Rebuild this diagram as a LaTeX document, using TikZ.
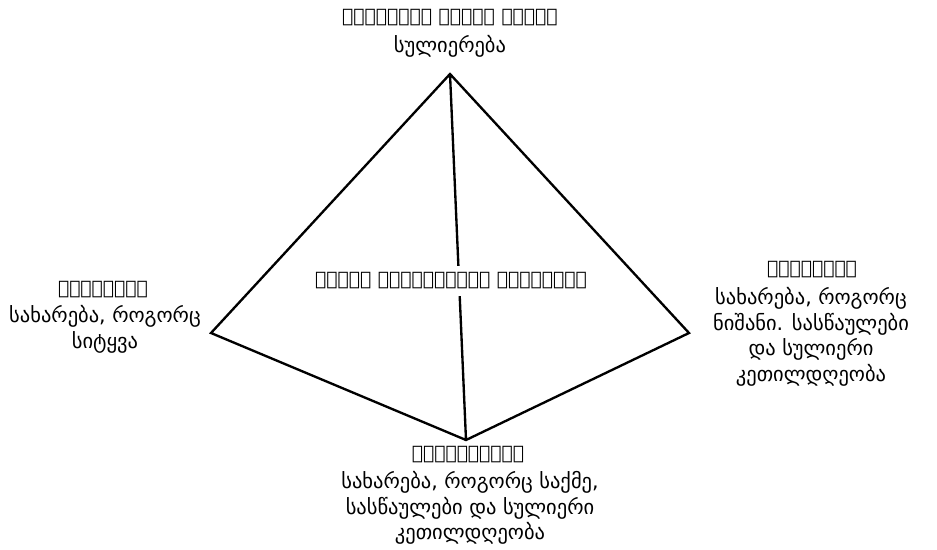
\documentclass[tikz,border=0pt]{standalone}
\usepackage{fontspec}
\setmainfont{DejaVu Sans}
\usepackage{tikz}
\tikzset{
  head/.style={font=\bfseries\fontsize{16}{19}\selectfont, inner sep=0pt},
  body/.style={font=\fontsize{17.5}{22}\selectfont, align=center, inner sep=0pt},
}
\begin{document}
\begin{tikzpicture}[x=0.03cm,y=-0.03cm]
    \useasboundingbox (0,0) rectangle (937,549);
    \coordinate (top) at (450,74);
    \coordinate (lft) at (211,333);
    \coordinate (rgt) at (689,333);
    \coordinate (bot) at (466,440);
    \draw[line width=2pt,line join=miter]
    (top)--(lft)--(bot)--(rgt)--cycle
    (top)--(bot);
    \node[head,fill=white,inner xsep=3pt,inner ysep=6pt] (mid) at (451,281) {ᲣᲤᲚᲘᲡ ᲡᲐᲡᲣᲤᲔᲕᲚᲘᲡ ᲡᲐᲮᲐᲠᲔᲑᲐ};
    % top
    \node[head] (toph) at (450,18) {ᲘᲔᲡᲝᲡᲗᲐᲜ ᲔᲠᲗᲐᲓ ᲧᲝᲤᲜᲐ};
    \node[body] (topb) at (450,46) {სულიერება};
    % left
    \node[head] (lfth) at (103,290) {ᲥᲐᲓᲐᲒᲔᲑᲐ};
    \node[body,anchor=north] (lftb) at (105,305) {სახარება, როგორც\\სიტყვა};
    % right
    \node[head] (rgth) at (812,270) {ᲒᲐᲜᲓᲔᲕᲜᲐ};
    \node[body,anchor=north] (rgtb) at (811,287) {სახარება, როგორც\\ნიშანი. სასწაულები\\და სულიერი\\კეთილდღეობა};
    % bottom
    \node[head] (both) at (468,455) {ᲒᲐᲜᲙᲣᲠᲜᲔᲑᲐ};
    \node[body,anchor=north] (botb) at (470,471) {სახარება, როგორც საქმე,\\სასწაულები და სულიერი\\კეთილდღეობა};
\end{tikzpicture}
\end{document}
